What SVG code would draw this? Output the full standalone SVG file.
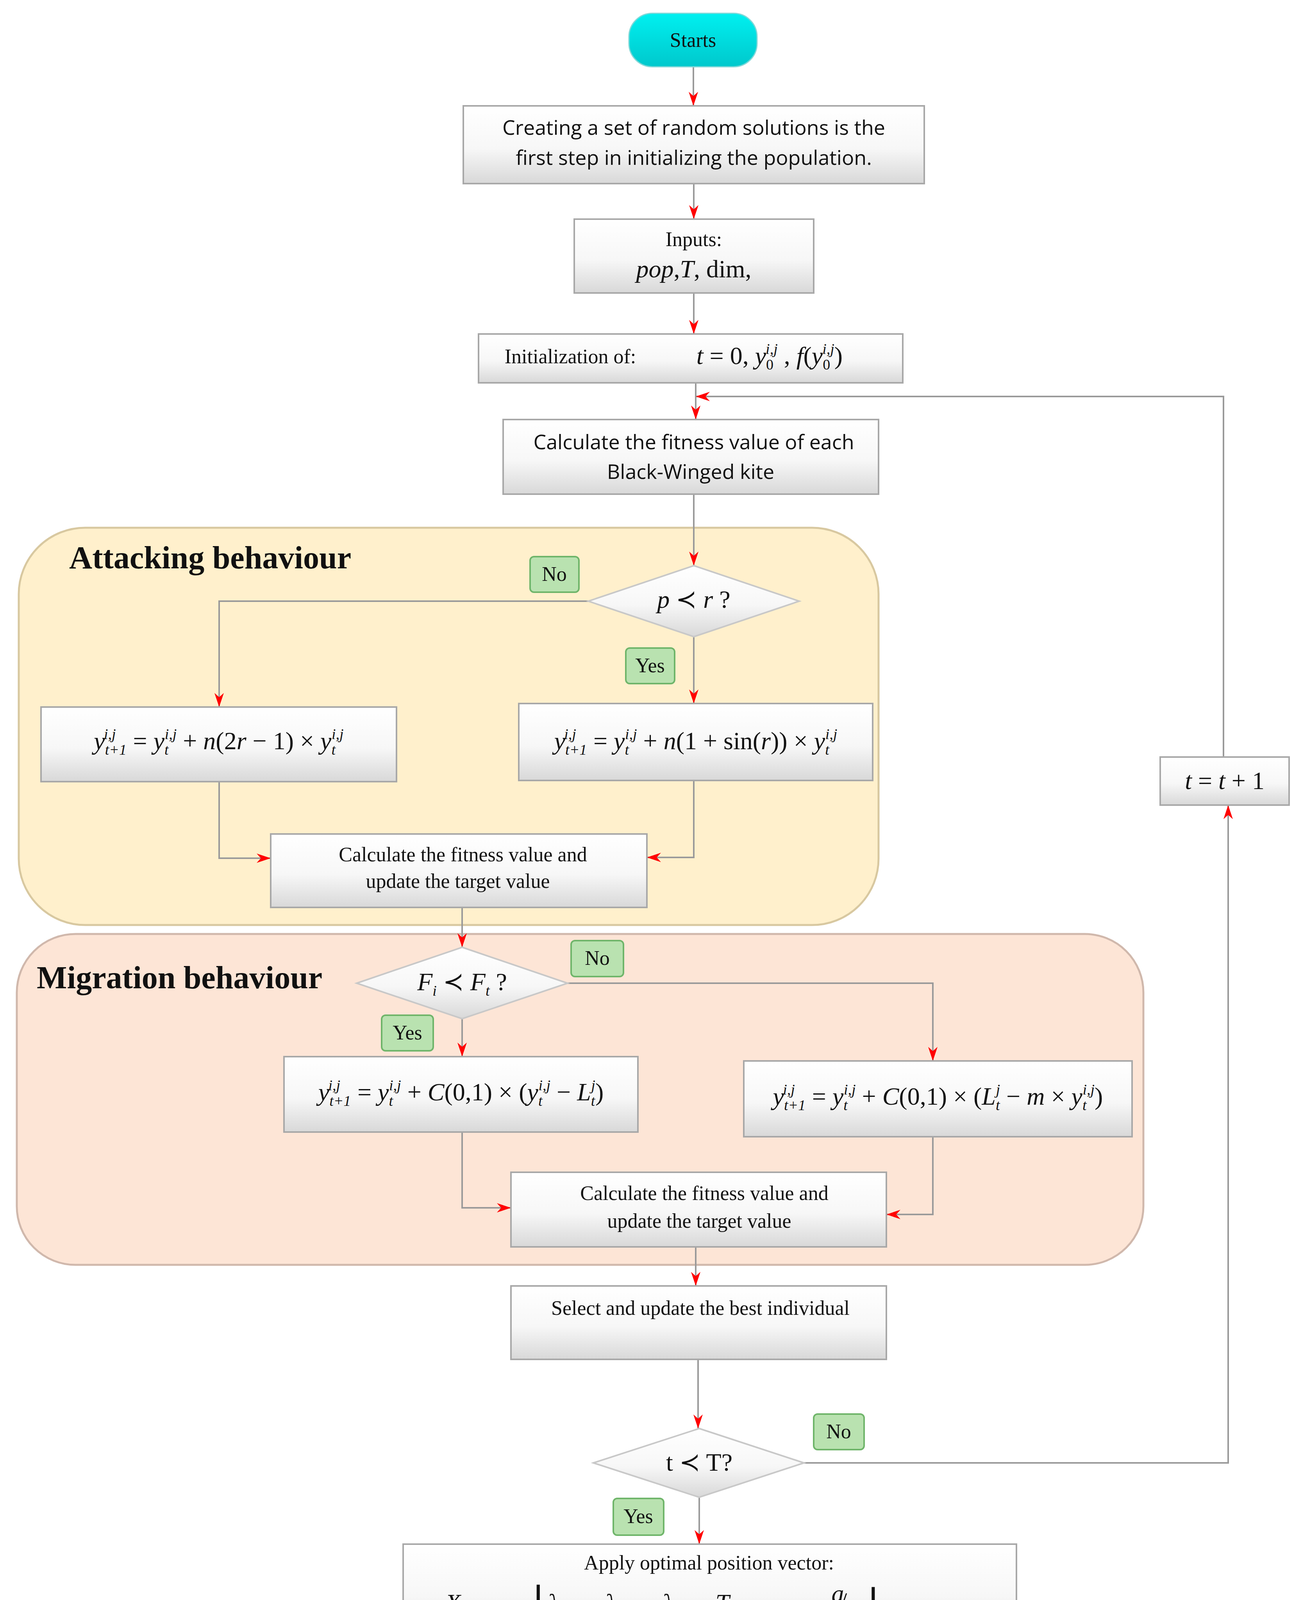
<svg xmlns="http://www.w3.org/2000/svg" width="3333" height="4468" viewBox="0 0 3333 4468">
<defs>
<linearGradient id="box" x1="0" y1="0" x2="0" y2="1"><stop offset="0" stop-color="#ffffff"/><stop offset="0.55" stop-color="#f7f7f7"/><stop offset="1" stop-color="#d8d8d8"/></linearGradient>
<linearGradient id="cyan" x1="0" y1="0" x2="0" y2="1"><stop offset="0" stop-color="#00f0f0"/><stop offset="1" stop-color="#00c8cc"/></linearGradient>
<marker id="ar" viewBox="0 0 30 20" refX="30" refY="10" markerWidth="36" markerHeight="24" markerUnits="userSpaceOnUse" orient="auto">
<path d="M0,0 L30,10 L0,20 L9,10 Z" fill="#ff0000"/>
</marker>
</defs>
<style>
.bx{fill:url(#box);stroke:#a8a8a8;stroke-width:4}
.dm{fill:url(#box);stroke:#c8c8c8;stroke-width:4}
.term{fill:url(#cyan);stroke:#7fd8d8;stroke-width:3}
.lb{fill:#b9e2b0;stroke:#6fb56a;stroke-width:4}
.t{font-family:"Liberation Serif",serif;font-size:52px;fill:#111;text-anchor:middle}
.s{font-family:"Open Sans","Liberation Sans",sans-serif;font-size:52px;fill:#111;text-anchor:middle}
.m{font-family:"Liberation Serif",serif;font-size:64px;fill:#111;text-anchor:middle}
.ms{font-family:"Liberation Serif",serif;font-size:64px;fill:#111;text-anchor:start}
.i{font-style:italic}
.h{font-family:"Liberation Serif",serif;font-weight:bold;font-size:82px;fill:#111}
.c{fill:none;stroke:#9a9a9a;stroke-width:4}
.sub{font-size:38px}
</style>
<rect x="48" y="1351" width="2201" height="1017" rx="170" fill="#fff0cc" stroke="#d8c8a0" stroke-width="5"/>
<rect x="43" y="2391" width="2884" height="847" rx="150" fill="#fde5d6" stroke="#d0b8ac" stroke-width="5"/>
<text class="h" x="177" y="1455">Attacking behaviour</text>
<text class="h" x="94" y="2530">Migration behaviour</text>

<g id="connectors">
<path class="c" d="M1775,171 V271" marker-end="url(#ar)"/>
<path class="c" d="M1776,470 V561" marker-end="url(#ar)"/>
<path class="c" d="M1776,750 V855" marker-end="url(#ar)"/>
<path class="c" d="M1781,980 V1074" marker-end="url(#ar)"/>
<path class="c" d="M3132,1938 V1015 H1781" marker-end="url(#ar)"/>
<path class="c" d="M1776,1265 V1448" marker-end="url(#ar)"/>
<path class="c" d="M1511,1539 H561 V1810" marker-end="url(#ar)"/>
<path class="c" d="M1776,1630 V1801" marker-end="url(#ar)"/>
<path class="c" d="M561,2001 V2197 H693" marker-end="url(#ar)"/>
<path class="c" d="M1776,1998 V2195 H1656" marker-end="url(#ar)"/>
<path class="c" d="M1183,2323 V2425" marker-end="url(#ar)"/>
<path class="c" d="M1453,2517 H2388 V2716" marker-end="url(#ar)"/>
<path class="c" d="M1183,2608 V2705" marker-end="url(#ar)"/>
<path class="c" d="M1183,2898 V3092 H1308" marker-end="url(#ar)"/>
<path class="c" d="M2388,2910 V3109 H2269" marker-end="url(#ar)"/>
<path class="c" d="M1781,3192 V3292" marker-end="url(#ar)"/>
<path class="c" d="M1787,3480 V3657" marker-end="url(#ar)"/>
<path class="c" d="M2058,3745 H3144 V2061" marker-end="url(#ar)"/>
<path class="c" d="M1790,3833 V3953" marker-end="url(#ar)"/>
<path class="c" d="M1793,4198 V4301" marker-end="url(#ar)"/>
</g>

<g id="start"><rect class="term" x="1610" y="34" width="328" height="137" rx="60"/><text class="t" x="1774" y="120">Starts</text></g>
<g id="create"><rect class="bx" x="1186" y="271" width="1180" height="199"/><text class="s" x="1776" y="345">Creating a set of random solutions is the</text><text class="s" x="1776" y="422">first step in initializing the population.</text></g>
<g id="inputs"><rect class="bx" x="1470" y="561" width="613" height="189"/><text class="t" x="1776" y="630">Inputs:</text><text class="m" x="1776" y="710"><tspan class="i">pop</tspan>,<tspan class="i">T</tspan>, dim,</text></g>
<g id="init"><rect class="bx" x="1225" y="855" width="1086" height="125"/><text class="t" x="1460" y="930">Initialization of:</text><text class="m" x="1970" y="932"><tspan class="i">t</tspan> = 0, <tspan class="i">y</tspan><tspan class="sub" dy="14">0</tspan><tspan class="sub i" dx="-20" dy="-40">i,j</tspan><tspan dy="26"> , </tspan><tspan class="i">f</tspan>(<tspan class="i">y</tspan><tspan class="sub" dy="14">0</tspan><tspan class="sub i" dx="-20" dy="-40">i,j</tspan><tspan dy="26">)</tspan></text></g>
<g id="fitness"><rect class="bx" x="1288" y="1074" width="961" height="191"/><text class="s" x="1776" y="1150">Calculate the fitness value of each</text><text class="s" x="1768" y="1226">Black-Winged kite</text></g>

<g id="dec1"><polygon class="dm" points="1776,1448 2046,1539 1776,1630 1506,1539"/><text class="m" x="1776" y="1556"><tspan class="i">p</tspan> ≺ <tspan class="i">r</tspan> ?</text></g>
<g id="no1"><rect class="lb" x="1357" y="1425" width="125" height="91" rx="10"/><text class="t" x="1419" y="1487">No</text></g>
<g id="yes1"><rect class="lb" x="1602" y="1659" width="125" height="91" rx="10"/><text class="t" x="1664" y="1721">Yes</text></g>
<g id="f1"><rect class="bx" x="105" y="1810" width="910" height="191"/><text class="m" x="560" y="1918"><tspan class="i">y</tspan><tspan class="sub i" dy="14">t+1</tspan><tspan class="sub i" dx="-58" dy="-40">i,j</tspan><tspan dx="28" dy="26"> = </tspan><tspan class="i">y</tspan><tspan class="sub i" dy="14">t</tspan><tspan class="sub i" dx="-10" dy="-40">i,j</tspan><tspan dy="26"> + </tspan><tspan class="i">n</tspan>(2<tspan class="i">r</tspan> − 1) × <tspan class="i">y</tspan><tspan class="sub i" dy="14">t</tspan><tspan class="sub i" dx="-10" dy="-40">i,j</tspan></text></g>
<g id="f2"><rect class="bx" x="1328" y="1801" width="906" height="197"/><text class="m" x="1781" y="1918"><tspan class="i">y</tspan><tspan class="sub i" dy="14">t+1</tspan><tspan class="sub i" dx="-58" dy="-40">i,j</tspan><tspan dx="28" dy="26"> = </tspan><tspan class="i">y</tspan><tspan class="sub i" dy="14">t</tspan><tspan class="sub i" dx="-10" dy="-40">i,j</tspan><tspan dy="26"> + </tspan><tspan class="i">n</tspan>(1 + sin(<tspan class="i">r</tspan>)) × <tspan class="i">y</tspan><tspan class="sub i" dy="14">t</tspan><tspan class="sub i" dx="-10" dy="-40">i,j</tspan></text></g>
<g id="calc1"><rect class="bx" x="693" y="2135" width="963" height="188"/><text class="t" x="1185" y="2205">Calculate the fitness value and</text><text class="t" x="1172" y="2273">update the target value</text></g>

<g id="dec2"><polygon class="dm" points="1183,2425 1453,2517 1183,2608 913,2517"/><text class="m" x="1183" y="2535"><tspan class="i">F</tspan><tspan class="sub i" dy="14">i</tspan><tspan dy="-14"> ≺ </tspan><tspan class="i">F</tspan><tspan class="sub i" dy="14">t</tspan><tspan dy="-14"> ?</tspan></text></g>
<g id="no2"><rect class="lb" x="1462" y="2408" width="134" height="92" rx="10"/><text class="t" x="1529" y="2470">No</text></g>
<g id="yes2"><rect class="lb" x="977" y="2599" width="132" height="91" rx="10"/><text class="t" x="1043" y="2661">Yes</text></g>
<g id="f3"><rect class="bx" x="727" y="2705" width="906" height="193"/><text class="m" x="1180" y="2817"><tspan class="i">y</tspan><tspan class="sub i" dy="14">t+1</tspan><tspan class="sub i" dx="-58" dy="-40">i,j</tspan><tspan dx="28" dy="26"> = </tspan><tspan class="i">y</tspan><tspan class="sub i" dy="14">t</tspan><tspan class="sub i" dx="-10" dy="-40">i,j</tspan><tspan dy="26"> + </tspan><tspan class="i">C</tspan>(0,1) × (<tspan class="i">y</tspan><tspan class="sub i" dy="14">t</tspan><tspan class="sub i" dx="-10" dy="-40">i,j</tspan><tspan dy="26"> − </tspan><tspan class="i">L</tspan><tspan class="sub i" dy="14">t</tspan><tspan class="sub i" dx="-10" dy="-40">j</tspan><tspan dy="26">)</tspan></text></g>
<g id="f4"><rect class="bx" x="1904" y="2716" width="994" height="194"/><text class="m" x="2401" y="2828"><tspan class="i">y</tspan><tspan class="sub i" dy="14">t+1</tspan><tspan class="sub i" dx="-58" dy="-40">i,j</tspan><tspan dx="28" dy="26"> = </tspan><tspan class="i">y</tspan><tspan class="sub i" dy="14">t</tspan><tspan class="sub i" dx="-10" dy="-40">i,j</tspan><tspan dy="26"> + </tspan><tspan class="i">C</tspan>(0,1) × (<tspan class="i">L</tspan><tspan class="sub i" dy="14">t</tspan><tspan class="sub i" dx="-10" dy="-40">j</tspan><tspan dy="26"> − </tspan><tspan class="i">m</tspan> × <tspan class="i">y</tspan><tspan class="sub i" dy="14">t</tspan><tspan class="sub i" dx="-10" dy="-40">i,j</tspan><tspan dy="26">)</tspan></text></g>
<g id="calc2"><rect class="bx" x="1308" y="3001" width="961" height="191"/><text class="t" x="1803" y="3072">Calculate the fitness value and</text><text class="t" x="1790" y="3143">update the target value</text></g>

<g id="select"><rect class="bx" x="1308" y="3292" width="961" height="188"/><text class="t" x="1793" y="3366">Select and update the best individual</text></g>
<g id="dec3"><polygon class="dm" points="1790,3657 2058,3745 1790,3833 1519,3745"/><text class="m" x="1790" y="3765">t ≺ T?</text></g>
<g id="no3"><rect class="lb" x="2083" y="3620" width="129" height="91" rx="10"/><text class="t" x="2147" y="3682">No</text></g>
<g id="yes3"><rect class="lb" x="1570" y="3836" width="129" height="94" rx="10"/><text class="t" x="1634" y="3899">Yes</text></g>
<g id="inc"><rect class="bx" x="2970" y="1938" width="330" height="123"/><text class="m" x="3135" y="2020"><tspan class="i">t</tspan> = <tspan class="i">t</tspan> + 1</text></g>
<g id="apply"><rect class="bx" x="1032" y="3953" width="1570" height="245"/><text class="t" x="1815" y="4018">Apply optimal position vector:</text>
<text class="ms" x="1140" y="4125"><tspan class="i">X</tspan><tspan class="sub i" dx="20" dy="16">best</tspan><tspan dx="40" dy="-16">=</tspan><tspan dx="30" font-size="90">⌊</tspan><tspan class="i">λ</tspan><tspan class="sub" dy="16">1</tspan><tspan class="i" dx="100" dy="-16">λ</tspan><tspan class="sub" dy="16">2</tspan><tspan class="i" dx="100" dy="-16">λ</tspan><tspan class="sub" dy="16">3</tspan><tspan class="i" dx="90" dy="-16">T</tspan><tspan class="sub i" dx="10" dy="16">IFTSC</tspan><tspan class="i" dx="150" dy="-40">a</tspan><tspan dx="-10" dy="20">/</tspan><tspan class="i" dx="-8" dy="20">b</tspan><tspan dx="20" dy="-10" font-size="90">⌋</tspan></text></g>
<g id="return"><rect class="term" x="1616" y="4301" width="351" height="134" rx="60"/><text class="t" x="1791" y="4386">Return</text></g>
</svg>
